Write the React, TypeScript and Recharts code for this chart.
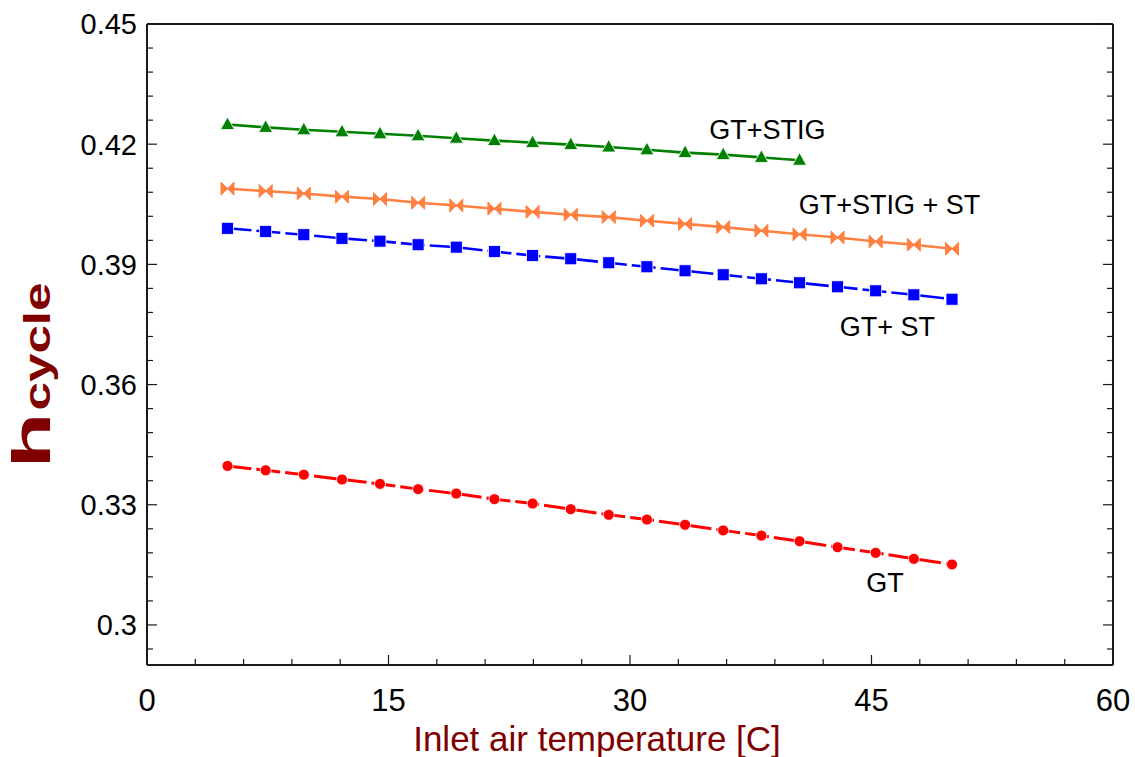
import React from 'react';
import { LineChart, Line, XAxis, YAxis, ReferenceDot } from 'recharts';

// Inlet air temperature [C] at which each configuration was evaluated
const temps = [5, 7.37, 9.74, 12.11, 14.47, 16.84, 19.21, 21.58, 23.95, 26.32, 28.68, 31.05, 33.42, 35.79, 38.16, 40.53, 42.89, 45.26, 47.63, 50];

// Cycle efficiency per configuration
const gtStig = [0.4249, 0.4242, 0.4236, 0.4231, 0.4226, 0.4221, 0.4215, 0.4209, 0.4204, 0.4199, 0.4193, 0.4186, 0.4179, 0.4174, 0.4167, 0.4160];
const gtStigSt = [0.4089, 0.4083, 0.4077, 0.4069, 0.4063, 0.4054, 0.4047, 0.4039, 0.4031, 0.4024, 0.4018, 0.4009, 0.4001, 0.3993, 0.3984, 0.3975, 0.3967, 0.3957, 0.3949, 0.3939];
const gtSt = [0.3990, 0.3982, 0.3974, 0.3965, 0.3958, 0.3949, 0.3943, 0.3932, 0.3922, 0.3914, 0.3904, 0.3894, 0.3884, 0.3874, 0.3864, 0.3854, 0.3844, 0.3834, 0.3824, 0.3813];
const gt = [0.3397, 0.3386, 0.3375, 0.3363, 0.3352, 0.3339, 0.3328, 0.3314, 0.3303, 0.3289, 0.3275, 0.3263, 0.3250, 0.3236, 0.3223, 0.3209, 0.3194, 0.3180, 0.3165, 0.3151];

// Axis ticks (all tick marks) and the subset that carries labels
const xTicks = [0, 3, 6, 9, 12, 15, 18, 21, 24, 27, 30, 33, 36, 39, 42, 45, 48, 51, 54, 57, 60];
const xLabels = [0, 15, 30, 45, 60];
const yTicks = [0.294, 0.3, 0.306, 0.312, 0.318, 0.324, 0.33, 0.336, 0.342, 0.348, 0.354, 0.36, 0.366, 0.372, 0.378, 0.384, 0.39, 0.396, 0.402, 0.408, 0.414, 0.42, 0.426, 0.432, 0.438, 0.444, 0.45];
const yLabels = [0.3, 0.33, 0.36, 0.39, 0.42, 0.45];

// Curve annotations in data units
const curveNotes = [
  { text: 'GT+STIG', x: 38.54, y: 0.4236 },
  { text: 'GT+STIG + ST', x: 46.12, y: 0.40485 },
  { text: 'GT+ ST', x: 45.99, y: 0.3746 },
  { text: 'GT', x: 45.84, y: 0.3106 },
];

const FONT = '"Liberation Sans", Arial, Helvetica, sans-serif';
const TITLE_COLOR = '#800000';
const FRAME = '#1a1a1a';

const toPoints = (vals: number[]) => vals.map((y, i) => ({ x: temps[i], y }));

const isLabel = (list: number[], v: number) => list.some((t) => Math.abs(t - v) < 1e-9);

const BottomTick = (props: any) => {
  const { x, y, payload } = props;
  const v = payload.value;
  const major = isLabel(xLabels, v);
  return (
    <g>
      <line x1={x} x2={x} y1={y} y2={y - (major ? 10 : 6)} stroke={FRAME} strokeWidth={1.2} />
      {major && (
        <text x={x} y={y + 46} textAnchor="middle" fontSize={31} fontFamily={FONT} fill="#000">
          {v}
        </text>
      )}
    </g>
  );
};

const TopTick = (props: any) => {
  const { x, y, payload } = props;
  const major = isLabel(xLabels, payload.value);
  return <line x1={x} x2={x} y1={y} y2={y + (major ? 10 : 6)} stroke={FRAME} strokeWidth={1.2} />;
};

const LeftTick = (props: any) => {
  const { x, y, payload } = props;
  const v = payload.value;
  const major = isLabel(yLabels, v);
  return (
    <g>
      <line x1={x} x2={x + (major ? 10 : 6)} y1={y} y2={y} stroke={FRAME} strokeWidth={1.2} />
      {major && (
        <text x={x - 10} y={y} dy="0.36em" textAnchor="end" fontSize={29} fontFamily={FONT} fill="#000">
          {String(v)}
        </text>
      )}
    </g>
  );
};

const RightTick = (props: any) => {
  const { x, y, payload } = props;
  const major = isLabel(yLabels, payload.value);
  return <line x1={x} x2={x - (major ? 10 : 6)} y1={y} y2={y} stroke={FRAME} strokeWidth={1.2} />;
};

const XTitle = (props: any) => {
  const vb = props.viewBox || { x: 0, y: 0, width: 0, height: 0 };
  return (
    <text
      x={vb.x + vb.width / 2 - 33}
      y={vb.y + 86}
      textAnchor="middle"
      fontSize={35}
      fontFamily={FONT}
      fill={TITLE_COLOR}
    >
      Inlet air temperature [C]
    </text>
  );
};

// Rotated efficiency title: a large "h" followed by a smaller bold "cycle"
const YTitle = (props: any) => {
  const vb = props.viewBox || { x: 0, y: 0, width: 0, height: 0 };
  const cx = vb.x + 50;
  const cy = vb.y + vb.height / 2 + 31;
  const start = cy + 93;
  return (
    <text
      x={start}
      y={cx}
      transform={`rotate(-90 ${cx} ${cy}) translate(${cx - cy} ${cy - cx})`}
      fontFamily={FONT}
      fontWeight="bold"
      fill={TITLE_COLOR}
    >
      <tspan x={cy - 93} y={cx} fontSize={54} textLength={56} lengthAdjust="spacingAndGlyphs">h</tspan>
      <tspan x={cy - 35} y={cx} fontSize={37} textLength={128} lengthAdjust="spacingAndGlyphs">cycle</tspan>
    </text>
  );
};

const Triangle = ({ cx, cy }: any) => (
  <polygon
    points={`${cx},${cy - 7.5} ${cx + 7},${cy + 5} ${cx - 7},${cy + 5}`}
    fill="#008000"
    stroke="#ffffff"
    strokeWidth={0.8}
  />
);

const Bowtie = ({ cx, cy }: any) => (
  <path
    d={`M${cx - 6.5},${cy - 6.5} L${cx},${cy} L${cx - 6.5},${cy + 6.5} Z M${cx + 6.5},${cy - 6.5} L${cx},${cy} L${cx + 6.5},${cy + 6.5} Z`}
    fill="#FF8040"
    stroke="#FF8040"
    strokeWidth={1}
    strokeLinejoin="round"
  />
);

const Square = ({ cx, cy }: any) => (
  <rect x={cx - 6} y={cy - 6} width={12} height={12} fill="#0000FF" stroke="#ffffff" strokeWidth={0.8} />
);

const Circle = ({ cx, cy }: any) => (
  <circle cx={cx} cy={cy} r={5.5} fill="#FF0000" stroke="#ffffff" strokeWidth={0.8} />
);

export default function App() {
  return (
    <div style={{ position: 'absolute', left: 0, top: 0 }}>
      <LineChart width={1135} height={757} margin={{ top: 0, right: 0, bottom: 0, left: 0 }}>
        <XAxis
          type="number"
          dataKey="x"
          domain={[0, 60]}
          ticks={xTicks}
          interval={0}
          height={92}
          tickSize={0}
          tickMargin={0}
          tickLine={false}
          axisLine={{ stroke: FRAME, strokeWidth: 2 }}
          tick={<BottomTick />}
          allowDataOverflow
          label={<XTitle />}
        />
        <XAxis
          xAxisId="top"
          orientation="top"
          type="number"
          domain={[0, 60]}
          ticks={xTicks}
          interval={0}
          height={24}
          tickSize={0}
          tickMargin={0}
          tickLine={false}
          axisLine={{ stroke: FRAME, strokeWidth: 2 }}
          tick={<TopTick />}
          allowDataOverflow
        />
        <YAxis
          type="number"
          domain={[0.29, 0.45]}
          ticks={yTicks}
          interval={0}
          width={147}
          tickSize={0}
          tickMargin={0}
          tickLine={false}
          axisLine={{ stroke: FRAME, strokeWidth: 2 }}
          tick={<LeftTick />}
          allowDataOverflow
          label={<YTitle />}
        />
        <YAxis
          yAxisId="right"
          orientation="right"
          type="number"
          domain={[0.29, 0.45]}
          ticks={yTicks}
          interval={0}
          width={22}
          tickSize={0}
          tickMargin={0}
          tickLine={false}
          axisLine={{ stroke: FRAME, strokeWidth: 2 }}
          tick={<RightTick />}
          allowDataOverflow
        />

        <Line
          data={toPoints(gtStig)}
          dataKey="y"
          stroke="#008000"
          strokeWidth={2.6}
          dot={(p: any) => <Triangle key={`t${p.index}`} cx={p.cx} cy={p.cy} />}
          activeDot={false}
          isAnimationActive={false}
        />
        <Line
          data={toPoints(gtStigSt)}
          dataKey="y"
          stroke="#FF8040"
          strokeWidth={2.6}
          dot={(p: any) => <Bowtie key={`b${p.index}`} cx={p.cx} cy={p.cy} />}
          activeDot={false}
          isAnimationActive={false}
        />
        <Line
          data={toPoints(gtSt)}
          dataKey="y"
          stroke="#0000FF"
          strokeWidth={2.6}
          strokeDasharray="24 5"
          dot={(p: any) => <Square key={`s${p.index}`} cx={p.cx} cy={p.cy} />}
          activeDot={false}
          isAnimationActive={false}
        />
        <Line
          data={toPoints(gt)}
          dataKey="y"
          stroke="#FF0000"
          strokeWidth={3}
          strokeDasharray="24 5"
          dot={(p: any) => <Circle key={`c${p.index}`} cx={p.cx} cy={p.cy} />}
          activeDot={false}
          isAnimationActive={false}
        />

        {curveNotes.map((n) => (
          <ReferenceDot
            key={n.text}
            x={n.x}
            y={n.y}
            r={0}
            fill="none"
            stroke="none"
            ifOverflow="visible"
            label={{ value: n.text, position: 'center', fontSize: 27, fontFamily: FONT, fill: '#000' }}
          />
        ))}
      </LineChart>
    </div>
  );
}
